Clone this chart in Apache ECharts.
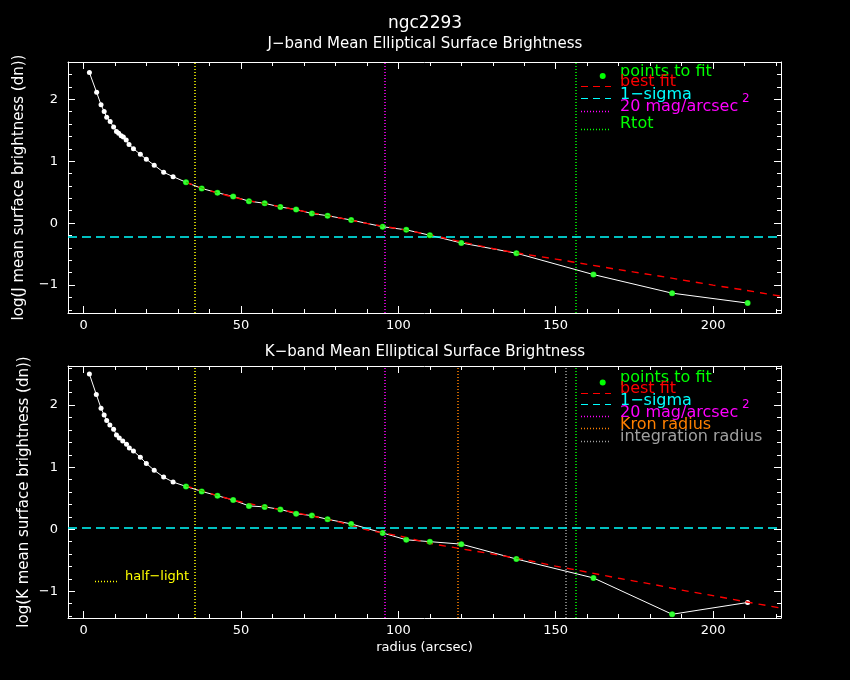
<!DOCTYPE html>
<html>
<head>
<meta charset="utf-8">
<script src="https://cdn.jsdelivr.net/npm/echarts@6/dist/echarts.min.js"></script>
<style>
  html, body { margin: 0; background: #000; }
  #main { width: 850px; height: 680px; }
</style>
</head>
<body>
<div id="main"></div>
<script>
// J-band profile
var jRadius = [1.8, 4.1, 5.5, 6.5, 7.3, 8.4, 9.5, 10.4, 11.1, 11.9, 12.6, 13.5, 14.4, 15.8, 18.0, 19.9, 22.4, 25.4, 28.4,
  32.5, 37.5, 42.5, 47.5, 52.5, 57.5, 62.5, 67.5, 72.5, 77.5, 85, 95, 102.5, 110, 120, 137.5, 162, 187, 211];
var jLogSB = [2.43, 2.11, 1.91, 1.80, 1.71, 1.64, 1.55, 1.48, 1.45, 1.41, 1.39, 1.34, 1.27, 1.20, 1.11, 1.03, 0.935, 0.82, 0.75,
  0.66, 0.56, 0.49, 0.43, 0.355, 0.32, 0.26, 0.22, 0.155, 0.12, 0.05, -0.058, -0.108, -0.195, -0.32, -0.485, -0.83, -1.13, -1.29];
// K-band profile
var kRadius = [1.8, 4.0, 5.5, 6.5, 7.3, 8.3, 9.5, 10.4, 11.3, 12.4, 13.6, 14.5, 15.8, 18.0, 19.9, 22.4, 25.4, 28.4,
  32.5, 37.5, 42.5, 47.5, 52.5, 57.5, 62.5, 67.5, 72.5, 77.5, 85, 95, 102.5, 110, 120, 137.5, 162, 187, 211];
var kLogSB = [2.50, 2.17, 1.95, 1.84, 1.75, 1.68, 1.61, 1.52, 1.47, 1.42, 1.37, 1.31, 1.26, 1.16, 1.06, 0.95, 0.84, 0.76,
  0.69, 0.61, 0.54, 0.47, 0.376, 0.36, 0.32, 0.25, 0.22, 0.16, 0.086, -0.06, -0.17, -0.20, -0.24, -0.48, -0.785, -1.37, -1.18];

// best fit curves
var fitRadius = [32.5, 40, 50, 60, 70, 80, 90, 100, 110, 120, 130, 140, 150, 160, 170, 180, 190, 200, 210, 221.6];
var jBestFit = [0.66, 0.525, 0.39, 0.29, 0.19, 0.097, -0.004, -0.091, -0.19, -0.30, -0.41, -0.50, -0.58, -0.665, -0.75, -0.83, -0.915, -1.0, -1.08, -1.18];
var kBestFit = [0.70, 0.58, 0.44, 0.34, 0.24, 0.13, -0.01, -0.105, -0.225, -0.315, -0.40, -0.49, -0.595, -0.69, -0.79, -0.88, -0.98, -1.07, -1.165, -1.27];

// fit ranges
var jFitRange = [32, 212];
var kFitRange = [32, 190];

// reference levels
var jSigma = -0.22;
var kSigma = 0.03;
var halfLight = 35.3;
var mag20 = 95.7;
var rTot = 156.4;
var kronRadius = 118.9;
var intRadius = 153.2;

// ticks
var xMajorTicks = [0, 50, 100, 150, 200];
var xMinorTicks = [0, 10, 20, 30, 40, 50, 60, 70, 80, 90, 100, 110, 120, 130, 140, 150, 160, 170, 180, 190, 200, 210, 220];
var yMajorTicks = [-1, 0, 1, 2];
var yMinorTicks = [-1.4, -1.2, -1, -0.8, -0.6, -0.4, -0.2, 0, 0.2, 0.4, 0.6, 0.8, 1, 1.2, 1.4, 1.6, 1.8, 2, 2.2, 2.4, 2.6];

var FONT = 'DejaVu Sans';
var WHITE = '#ffffff';
var DOT = [1, 2];

function pairs(xs, ys) {
  return xs.map(function (x, i) { return [x, ys[i]]; });
}
function inRange(xs, ys, r) {
  return pairs(xs, ys).filter(function (p) { return p[0] >= r[0] && p[0] <= r[1]; });
}

var grids = [
  { left: 68, right: 69, top: 62, height: 251 },
  { left: 68, right: 69, top: 366, height: 252 }
];
var yRanges = [[-1.45, 2.6], [-1.43, 2.63]];
var yNames = ['log(J mean surface brightness (dn))', 'log(K mean surface brightness (dn))'];
var yNameGaps = [41, 36];

function axisSet(g, minv, maxv, majors, minors, positions, labelOpt) {
  var out = [];
  positions.forEach(function (pos, pi) {
    [majors, minors].forEach(function (ticks, ti) {
      var ax = {
        type: 'value', gridIndex: g, position: pos, min: minv, max: maxv,
        splitLine: { show: false },
        axisLine: { show: ti === 0, onZero: false, lineStyle: { color: WHITE, width: 1 } },
        axisTick: { show: true, inside: true, length: ti === 0 ? 7 : 4, customValues: ticks, lineStyle: { color: WHITE } },
        axisLabel: { show: false }
      };
      if (pi === 0 && ti === 0) Object.assign(ax, labelOpt);
      out.push(ax);
    });
  });
  return out;
}

var xAxes = [], yAxes = [];
[0, 1].forEach(function (g) {
  var xl = {
    axisLabel: { show: true, customValues: xMajorTicks, color: WHITE, fontSize: 13, fontFamily: FONT, margin: 6 }
  };
  if (g === 1) {
    xl.name = 'radius (arcsec)';
    xl.nameLocation = 'middle';
    xl.nameGap = 23;
    xl.nameMoveOverlap = false;
    xl.nameTextStyle = { color: WHITE, fontSize: 13, fontFamily: FONT };
  }
  xAxes = xAxes.concat(axisSet(g, -5, 221.6, xMajorTicks, xMinorTicks, ['bottom', 'top'], xl));
  var yl = {
    axisLabel: {
      show: true, customValues: yMajorTicks, color: WHITE, fontSize: 13, fontFamily: FONT, margin: 10,
      formatter: function (v) { return v < 0 ? '\u2212' + (-v) : String(v); }
    },
    name: yNames[g], nameLocation: 'middle', nameRotate: 90, nameGap: yNameGaps[g],
    nameMoveOverlap: false,
    nameTextStyle: { color: WHITE, fontSize: 15, fontFamily: FONT }
  };
  yAxes = yAxes.concat(axisSet(g, yRanges[g][0], yRanges[g][1], yMajorTicks, yMinorTicks, ['left', 'right'], yl));
});

function vline(x, color) {
  return { xAxis: x, lineStyle: { color: color, type: DOT, width: 1.5, opacity: 1 } };
}
function hline(y) {
  return { yAxis: y, lineStyle: { color: '#00ffff', type: [9, 5], width: 1.5, opacity: 1 } };
}

function panelSeries(g, rad, vals, fit, fitRange, marks) {
  return [
    {
      type: 'line', xAxisIndex: g * 4, yAxisIndex: g * 4,
      data: pairs(rad, vals),
      symbol: 'circle', symbolSize: 5, showSymbol: true,
      itemStyle: { color: WHITE }, lineStyle: { color: WHITE, width: 1 },
      z: 3,
      markLine: {
        silent: true, symbol: ['none', 'none'], label: { show: false },
        animation: false, data: marks
      }
    },
    {
      type: 'line', xAxisIndex: g * 4, yAxisIndex: g * 4,
      data: pairs(fitRadius, fit), showSymbol: false, smooth: 0.3,
      lineStyle: { color: '#ff0000', width: 1.4, type: [7, 6] }, z: 4
    },
    {
      type: 'scatter', xAxisIndex: g * 4, yAxisIndex: g * 4,
      data: inRange(rad, vals, fitRange), symbol: 'circle', symbolSize: 6,
      itemStyle: { color: '#00ff00' }, z: 5
    }
  ];
}

var series = panelSeries(0, jRadius, jLogSB, jBestFit, jFitRange, [
  vline(halfLight, '#ffff00'), vline(mag20, '#ff00ff'), vline(rTot, '#00ff00'), hline(jSigma)
]).concat(panelSeries(1, kRadius, kLogSB, kBestFit, kFitRange, [
  vline(halfLight, '#ffff00'), vline(mag20, '#ff00ff'), vline(kronRadius, '#ff8000'),
  vline(intRadius, '#a0a0a0'), vline(rTot, '#00ff00'), hline(kSigma)
]));

// legends
function legText(x, y, text, color, size) {
  return { type: 'text', x: x, y: y, silent: true,
    style: { text: text, fill: color, font: (size || 16) + 'px "' + FONT + '"', verticalAlign: 'middle' } };
}
function legLine(x1, x2, y, color, dash) {
  return { type: 'line', silent: true, shape: { x1: x1, y1: y, x2: x2, y2: y },
    style: { stroke: color, lineWidth: dash === DOT ? 1.5 : 1.2, lineDash: dash } };
}
function legDot(x, y) {
  return { type: 'circle', silent: true, shape: { cx: x, cy: y, r: 3 }, style: { fill: '#00ff00' } };
}

var graphics = [
  legDot(602.7, 76), legText(620, 72, 'points to fit', '#00ff00'),
  legLine(581, 611, 86.5, '#ff0000', [7, 5]), legText(620, 82, 'best fit', '#ff0000'),
  legLine(581, 611, 98.5, '#00ffff', [7, 5]), legText(620, 94.5, '1\u2212sigma', '#00ffff'),
  legLine(581, 611, 111.5, '#ff00ff', DOT), legText(620, 106.5, '20 mag/arcsec', '#ff00ff'), legText(742, 99, '2', '#ff00ff', 12),
  legLine(581, 611, 129.5, '#00ff00', DOT), legText(620, 124, 'Rtot', '#00ff00'),

  legDot(602.7, 382.5), legText(620, 378, 'points to fit', '#00ff00'),
  legLine(581, 611, 393.5, '#ff0000', [7, 5]), legText(620, 388.5, 'best fit', '#ff0000'),
  legLine(581, 611, 404.5, '#00ffff', [7, 5]), legText(620, 401, '1\u2212sigma', '#00ffff'),
  legLine(581, 611, 416.5, '#ff00ff', DOT), legText(620, 412.5, '20 mag/arcsec', '#ff00ff'), legText(742, 405, '2', '#ff00ff', 12),
  legLine(581, 611, 428.5, '#ff8000', DOT), legText(620, 425, 'Kron radius', '#ff8000'),
  legLine(581, 611, 441.5, '#a0a0a0', DOT), legText(620, 437, 'integration radius', '#a0a0a0'),

  legLine(95, 117, 581.5, '#ffff00', DOT), legText(125, 577, 'half\u2212light', '#ffff00', 13)
];

var chart = echarts.init(document.getElementById('main'), null, { renderer: 'canvas' });
chart.setOption({
  backgroundColor: '#000000',
  animation: false,
  title: [
    { text: 'ngc2293', left: 'center', top: 15, padding: 0,
      textStyle: { color: WHITE, fontSize: 17, fontWeight: 'normal', fontFamily: FONT } },
    { text: 'J\u2212band Mean Elliptical Surface Brightness', left: 'center', top: 37, padding: 0,
      textStyle: { color: WHITE, fontSize: 15, fontWeight: 'normal', fontFamily: FONT } },
    { text: 'K\u2212band Mean Elliptical Surface Brightness', left: 'center', top: 345, padding: 0,
      textStyle: { color: WHITE, fontSize: 15, fontWeight: 'normal', fontFamily: FONT } }
  ],
  grid: grids,
  xAxis: xAxes,
  yAxis: yAxes,
  series: series,
  graphic: graphics
});
</script>
</body>
</html>
